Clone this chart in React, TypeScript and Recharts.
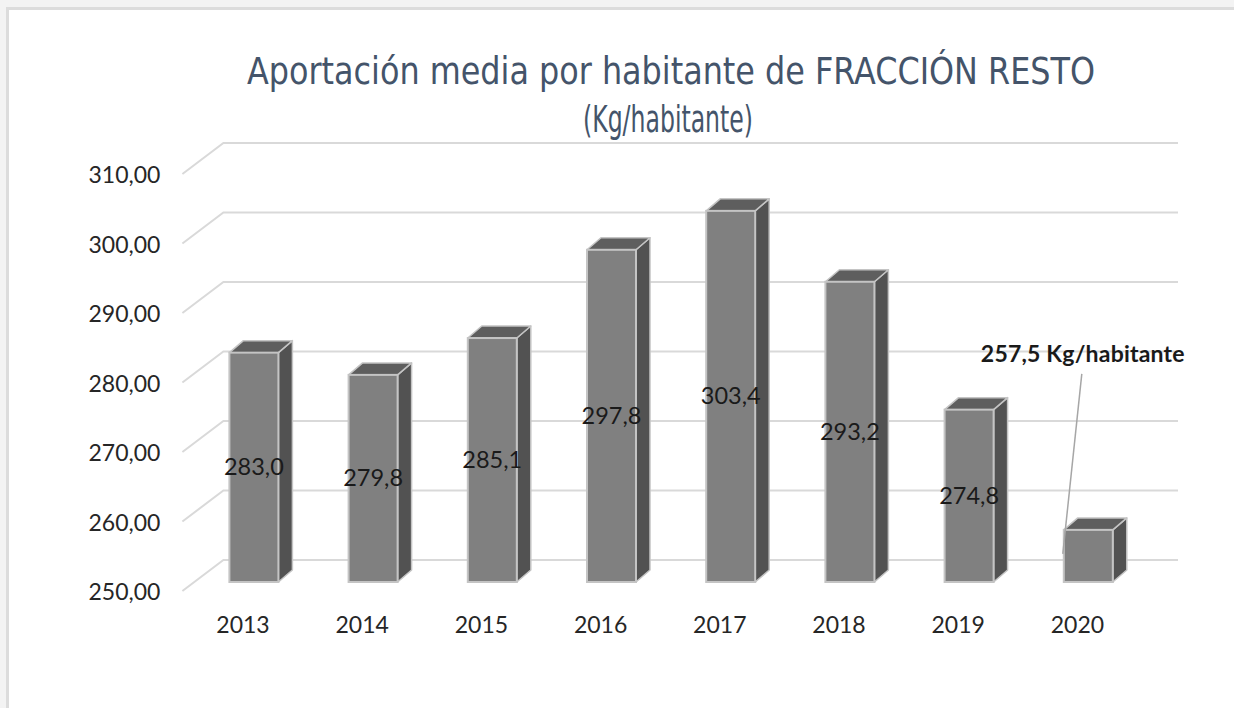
import React from 'react';
import { BarChart, Bar, XAxis, YAxis, CartesianGrid } from 'recharts';

const years = ['2013', '2014', '2015', '2016', '2017', '2018', '2019', '2020'];
const kgPerInhabitant = [283.0, 279.8, 285.1, 297.8, 303.4, 293.2, 274.8, 257.5];
const yTicks = [250, 260, 270, 280, 290, 300, 310];
const calloutYear = '2020';

const titleLines = ['Aportación media por habitante de FRACCIÓN RESTO', '(Kg/habitante)'];

const data = years.map((year, i) => ({ year, value: kgPerInhabitant[i] }));

const fmt = (v: number, d: number) => v.toFixed(d).replace('.', ',');

// depth of the 3D box
const DEPTH_X = 14;
const DEPTH_Y = 12;
const numFont = 'Lato, "Open Sans", sans-serif';
const titleFont = '"DejaVu Sans Condensed", "DejaVu Sans", sans-serif';

function GridLine(props: any) {
  const { x1, x2, y1 } = props;
  return (
    <path
      key={`grid-${y1}`}
      d={`M${x1 - 12},${y1 + 9} L${x1 + 29},${y1 - 22} L${x2 + 30},${y1 - 22}`}
      fill="none"
      stroke="#d9d9d9"
      strokeWidth={2}
    />
  );
}

function Box(props: any) {
  const { x, y, width: w, height: h, payload } = props;
  const isCallout = payload?.year === calloutYear;
  return (
    <g>
      <polygon
        points={`${x + w},${y} ${x + w + DEPTH_X},${y - DEPTH_Y} ${x + w + DEPTH_X},${y + h - DEPTH_Y} ${x + w},${y + h}`}
        fill="#525252"
        stroke="#c4c4c4"
        strokeWidth={1.5}
        strokeLinejoin="round"
      />
      <polygon
        points={`${x},${y} ${x + DEPTH_X},${y - DEPTH_Y} ${x + w + DEPTH_X},${y - DEPTH_Y} ${x + w},${y}`}
        fill="#5e5e5e"
        stroke="#c4c4c4"
        strokeWidth={1.5}
        strokeLinejoin="round"
      />
      <rect x={x} y={y} width={w} height={h} fill="#808080" stroke="#c4c4c4" strokeWidth={2} />
      {isCallout ? (
        <g>
          <line x1={x + 18} y1={y - 156} x2={x - 1} y2={y + 24} stroke="#a6a6a6" strokeWidth={1.5} />
          <text
            x={x + 19}
            y={y - 168}
            textAnchor="middle"
            fontFamily={numFont}
            fontWeight="bold"
            fontSize={23}
            letterSpacing={0.2}
            fill="#1a1a1a"
          >
            {`${fmt(payload.value, 1)} Kg/habitante`}
          </text>
        </g>
      ) : (
        <text
          x={x + w / 2}
          y={y + h / 2 + 8}
          textAnchor="middle"
          fontFamily={numFont}
          fontSize={23.5}
          fill="#1a1a1a"
        >
          {fmt(payload.value, 1)}
        </text>
      )}
    </g>
  );
}

function YTick(props: any) {
  const { x, y, payload } = props;
  return (
    <text x={x} y={y + 18} textAnchor="end" fontFamily={numFont} fontSize={23} fill="#262626">
      {fmt(payload.value, 2)}
    </text>
  );
}

function XTick(props: any) {
  const { x, y, payload } = props;
  return (
    <text x={x - 11} y={y + 51} textAnchor="middle" fontFamily={numFont} fontSize={23} fill="#262626">
      {payload.value}
    </text>
  );
}

export default function App() {
  return (
    <div style={{ position: 'absolute', left: 0, top: 0, width: 1234, height: 708, background: '#f3f3f3', overflow: 'hidden' }}>
      <div
        style={{
          position: 'absolute',
          left: 6,
          top: 7,
          width: 1240,
          height: 720,
          background: '#ffffff',
          borderLeft: '3px solid #dcdcdc',
          borderTop: '3px solid #dcdcdc',
        }}
      />
      <div style={{ position: 'absolute', left: 0, top: 0 }}>
        <BarChart width={1234} height={708} data={data} margin={{ top: 165, right: 86, bottom: 96, left: 0 }}>
          <CartesianGrid vertical={false} horizontal={(p: any) => <GridLine {...p} />} />
          <XAxis
            dataKey="year"
            height={30}
            axisLine={false}
            tickLine={false}
            tickSize={0}
            tickMargin={0}
            tick={<XTick />}
            interval={0}
          />
          <YAxis
            domain={[250, 310]}
            ticks={yTicks}
            width={194.4}
            axisLine={false}
            tickLine={false}
            tickSize={0}
            tickMargin={34}
            tick={<YTick />}
            interval={0}
          />
          <Bar dataKey="value" barSize={49} isAnimationActive={false} shape={(p: any) => <Box {...p} />} />
        </BarChart>
      </div>
      <svg width={1234} height={160} style={{ position: 'absolute', left: 0, top: 0, pointerEvents: 'none' }}>
        <text
          x={671}
          y={84}
          textAnchor="middle"
          fontFamily={titleFont}
          fontStretch="condensed"
          fontSize={37}
          fill="#44546a"
          textLength={848}
          lengthAdjust="spacingAndGlyphs"
        >
          {titleLines[0]}
        </text>
        <text
          x={668}
          y={132}
          textAnchor="middle"
          fontFamily={titleFont}
          fontStretch="condensed"
          fontSize={38}
          fill="#44546a"
          textLength={170}
          lengthAdjust="spacingAndGlyphs"
        >
          {titleLines[1]}
        </text>
      </svg>
    </div>
  );
}
